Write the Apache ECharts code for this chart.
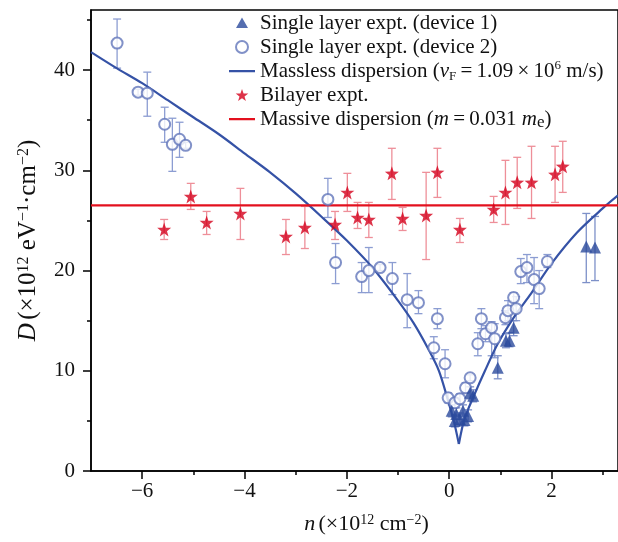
<!DOCTYPE html>
<html lang="en">

<head>
  <meta charset="UTF-8">
  <title>Density of states vs carrier density</title>
  <script src="https://cdn.jsdelivr.net/npm/echarts@6/dist/echarts.min.js"></script>
  <style>
    html, body {
      margin: 0;
      padding: 0;
      background: #fff;
    }

    #chart {
      width: 618px;
      height: 542px;
    }
  </style>
</head>

<body>
  <div id="chart"></div>

  <script>
    // single layer, device 1 (filled triangles)
    var dev1N = [0.05, 0.11, 0.14, 0.21, 0.27, 0.30, 0.37, 0.41, 0.47, 0.95, 1.11, 1.18, 1.26, 2.68, 2.85];
    var dev1D = [6.0, 5.0, 5.7, 5.2, 6.0, 5.1, 5.5, 7.8, 7.5, 10.3, 13.0, 13.0, 14.3, 22.4, 22.3];
    var dev1Lo = [5.4, 4.4, 5.1, 4.6, 5.4, 4.5, 4.9, 7.2, 6.9, 9.2, 12.3, 12.4, 13.5, 18.8, 19.0];
    var dev1Hi = [6.6, 5.6, 6.3, 5.8, 6.6, 5.7, 6.1, 8.4, 8.1, 11.5, 13.7, 13.8, 15.0, 25.7, 25.4];

    // single layer, device 2 (open circles)
    var dev2N = [-6.49, -6.08, -5.90, -5.56, -5.41, -5.27, -5.15, -2.37, -2.22, -1.71, -1.57, -1.35, -1.11, -0.82, -0.60,
      -0.23, -0.30, -0.08, -0.02, 0.11, 0.21, 0.32, 0.41, 0.56, 0.63, 0.71, 0.83, 0.89, 1.10, 1.15, 1.26, 1.31, 1.40,
      1.52, 1.66, 1.76, 1.92];
    var dev2D = [42.7, 37.8, 37.7, 34.6, 32.6, 33.1, 32.5, 27.1, 20.8, 19.4, 20.0, 20.3, 19.2, 17.1, 16.8,
      15.2, 12.3, 10.7, 7.3, 6.8, 7.2, 8.3, 9.3, 12.7, 15.2, 13.7, 14.3, 13.2, 15.3, 16.0, 17.3, 16.2, 19.9,
      20.3, 19.1, 18.2, 20.9];
    var dev2Lo = [40.2, 37.5, 35.4, 32.8, 29.9, 31.3, 32.2, 25.3, 18.7, 17.8, 17.8, 20.0, 17.6, 14.3, 15.7,
      14.2, 11.2, 9.3, 6.8, 6.3, 6.7, 7.8, 9.0, 11.5, 14.2, 12.9, 11.5, 11.3, 14.6, 15.0, 16.5, 15.0, 18.7,
      18.8, 16.7, 16.2, 20.3];
    var dev2Hi = [45.1, 38.1, 39.8, 36.3, 35.2, 34.8, 32.8, 29.2, 22.7, 20.8, 22.3, 20.6, 20.8, 19.7, 18.0,
      16.2, 13.4, 12.1, 7.8, 7.3, 7.7, 8.8, 9.6, 13.8, 16.2, 14.5, 14.9, 14.7, 16.0, 17.0, 17.8, 17.4, 21.2,
      21.6, 21.3, 20.0, 21.6];

    // bilayer (stars)
    var biN = [-5.57, -5.05, -4.74, -4.08, -3.19, -2.82, -2.23, -1.99, -1.79, -1.57, -1.12, -0.91, -0.45, -0.23,
      0.21, 0.87, 1.10, 1.33, 1.61, 2.07, 2.22];
    var biD = [24.1, 27.4, 24.8, 25.7, 23.4, 24.3, 24.6, 27.8, 25.3, 25.1, 29.7, 25.2, 25.5, 29.8,
      24.1, 26.1, 27.8, 28.8, 28.8, 29.6, 30.4];
    var biLo = [23.1, 26.1, 23.6, 23.1, 21.6, 22.2, 23.1, 25.9, 24.2, 23.3, 27.1, 24.0, 21.1, 27.3,
      22.8, 24.8, 24.6, 26.2, 25.2, 26.8, 27.8];
    var biHi = [25.1, 28.7, 25.9, 28.2, 25.1, 26.4, 25.9, 29.7, 26.8, 26.8, 32.2, 26.3, 29.8, 32.2,
      25.2, 27.4, 31.0, 31.3, 32.4, 32.4, 32.9];

    // massless dispersion curve (left and right branches)
    var masslessLeftN = [-7.0, -6.5, -6.0, -5.5, -5.0, -4.5, -4.0, -3.5, -3.0, -2.5, -2.0, -1.5, -1.0, -0.7, -0.4,
      -0.2, -0.02, 0.1, 0.19];
    var masslessLeftD = [41.8, 40.2, 38.7, 37.0, 35.3, 33.6, 31.7, 29.8, 27.7, 25.4, 23.0, 20.3, 17.0, 14.8, 12.1,
      10.0, 7.0, 4.8, 2.7];
    var masslessRightN = [0.19, 0.3, 0.5, 0.7, 0.95, 1.3, 1.6, 2.0, 2.5, 3.0, 3.3];
    var masslessRightD = [2.7, 5.2, 7.7, 10.0, 12.7, 15.6, 17.7, 20.7, 23.8, 26.2, 27.5];

    // massive dispersion (flat)
    var massiveN = [-7.0, 3.3];
    var massiveD = [26.5, 26.5];

    var xMajor = [-6, -4, -2, 0, 2];
    var xMinor = [-5, -3, -1, 1, 3];
    var yMajor = [0, 10, 20, 30, 40];
    var yMinor = [5, 15, 25, 35, 45];

    var FONT = 'Liberation Serif';
    var starPath = 'path://M0,-10L2.35,-3.24L9.51,-3.09L3.8,1.24L5.88,8.09L0,4L-5.88,8.09L-3.8,1.24L-9.51,-3.09L-2.35,-3.24Z';
    // legend icons, drawn inside a 26x12 box
    var lineIcon = 'path://M0,0L0.01,0M0,5H26V7.2H0ZM26,12L25.99,12';
    var triIcon = 'path://M0,0L0.01,0M13,0.5L19,11L7,11ZM26,12L25.99,12';

    function zip(a, b) {
      return a.map(function (v, i) { return [v, b[i]]; });
    }

    function errData(n, lo, hi) {
      return n.map(function (v, i) { return [v, lo[i], hi[i]]; });
    }

    // vertical error bars with caps
    function errBars(color) {
      return function (params, api) {
        var x = api.value(0);
        var p1 = api.coord([x, api.value(1)]);
        var p2 = api.coord([x, api.value(2)]);
        var w = 4;
        var st = { stroke: color, lineWidth: 1.3 };
        return {
          type: 'group',
          children: [
            { type: 'line', shape: { x1: p1[0], y1: p1[1], x2: p2[0], y2: p2[1] }, style: st },
            { type: 'line', shape: { x1: p1[0] - w, y1: p1[1], x2: p1[0] + w, y2: p1[1] }, style: st },
            { type: 'line', shape: { x1: p2[0] - w, y1: p2[1], x2: p2[0] + w, y2: p2[1] }, style: st }
          ]
        };
      };
    }

    var rich = {
      i: { fontFamily: FONT, fontStyle: 'italic', fontSize: 21, color: '#111' },
      sup: { fontFamily: FONT, fontSize: 13, verticalAlign: 'top', color: '#111' },
      sub: { fontFamily: FONT, fontSize: 13, verticalAlign: 'bottom', color: '#111' },
      sube: { fontFamily: FONT, fontSize: 17, verticalAlign: 'bottom', color: '#111' },
      t: { fontFamily: FONT, fontSize: 21, color: '#111' }
    };

    var legendText = {
      'Single layer expt. (device 1)': '{t|Single layer expt. (device 1)}',
      'Single layer expt. (device 2)': '{t|Single layer expt. (device 2)}',
      'Massless dispersion': '{t|Massless dispersion (}{i|v}{sub|F}{t|\u2009=\u20091.09\u2009×\u200910}{sup|6}{t| m/s)}',
      'Bilayer expt.': '{t|Bilayer expt.}',
      'Massive dispersion': '{t|Massive dispersion (}{i|m}{t|\u2009=\u20090.031 }{i|m}{sube|e}{t|)}'
    };

    var chart = echarts.init(document.getElementById('chart'));

    var xRich = {
      i: { fontFamily: FONT, fontStyle: 'italic', fontSize: 22, color: '#111' },
      t: { fontFamily: FONT, fontSize: 22, color: '#111' },
      sup: { fontFamily: FONT, fontSize: 14, verticalAlign: 'top', color: '#111' }
    };
    var yRich = {
      i: { fontFamily: FONT, fontStyle: 'italic', fontSize: 25, color: '#111' },
      t: { fontFamily: FONT, fontSize: 25, color: '#111' },
      sup: { fontFamily: FONT, fontSize: 16, verticalAlign: 'top', color: '#111' }
    };

    var option = {
      animation: false,
      grid: {
        left: 91, top: 10, right: -3, bottom: 71,
        show: true, borderColor: '#000', borderWidth: 1.5
      },
      legend: {
        orient: 'vertical',
        left: 224,
        top: 6,
        itemWidth: 26,
        itemHeight: 12,
        itemGap: 0,
        data: [
          { name: 'Single layer expt. (device 1)', icon: triIcon },
          { name: 'Single layer expt. (device 2)' },
          { name: 'Massless dispersion', icon: lineIcon },
          { name: 'Bilayer expt.' },
          { name: 'Massive dispersion', icon: lineIcon }
        ],
        formatter: function (name) { return legendText[name]; },
        textStyle: { fontFamily: FONT, fontSize: 21, color: '#111', lineHeight: 24, rich: rich }
      },
      xAxis: [
        {
          type: 'value',
          min: -7, max: 3.3,
          splitLine: { show: false },
          axisLine: { onZero: false, lineStyle: { color: '#000', width: 1.5 } },
          axisTick: { customValues: xMajor, length: 8, inside: false, lineStyle: { color: '#000', width: 1.5 } },
          axisLabel: {
            customValues: xMajor, margin: 10, fontFamily: FONT, fontSize: 21, color: '#111',
            formatter: function (v) { return v < 0 ? '\u2212' + Math.abs(v) : String(v); }
          },
          name: '{i|n} {t|(×10}{sup|12}{t| cm}{sup|−2}{t|)}',
          nameLocation: 'middle',
          nameGap: 42,
          nameTextStyle: { rich: xRich, padding: [0, 0, 0, 24] }
        },
        {
          type: 'value',
          min: -7, max: 3.3,
          position: 'bottom',
          splitLine: { show: false },
          axisLine: { show: false, onZero: false },
          axisTick: { customValues: xMinor, length: 4, lineStyle: { color: '#000', width: 1.5 } },
          axisLabel: { show: false }
        }
      ],
      yAxis: [
        {
          type: 'value',
          min: 0, max: 46,
          splitLine: { show: false },
          axisLine: { show: true, onZero: false, lineStyle: { color: '#000', width: 1.5 } },
          axisTick: { show: true, customValues: yMajor, length: 8, lineStyle: { color: '#000', width: 1.5 } },
          axisLabel: { customValues: yMajor, margin: 16, fontFamily: FONT, fontSize: 21, color: '#111' },
          name: '{i|D} {t|(×10}{sup|12}{t| eV}{sup|−1}{t|·cm}{sup|−2}{t|)}',
          nameLocation: 'middle',
          nameGap: 50,
          nameTextStyle: { rich: yRich }
        },
        {
          type: 'value',
          min: 0, max: 46,
          position: 'left',
          splitLine: { show: false },
          axisLine: { show: false, onZero: false },
          axisTick: { show: true, customValues: yMinor, length: 4, lineStyle: { color: '#000', width: 1.5 } },
          axisLabel: { show: false }
        }
      ],
      series: [
        {
          type: 'custom', renderItem: errBars('#8c9dd2'), data: errData(dev2N, dev2Lo, dev2Hi),
          encode: { x: 0, y: [1, 2] }, z: 1, silent: true
        },
        {
          type: 'custom', renderItem: errBars('#7d90c8'), data: errData(dev1N, dev1Lo, dev1Hi),
          encode: { x: 0, y: [1, 2] }, z: 1, silent: true
        },
        {
          type: 'custom', renderItem: errBars('#ee8f99'), data: errData(biN, biLo, biHi),
          encode: { x: 0, y: [1, 2] }, z: 1, silent: true
        },
        {
          name: 'Massless dispersion', type: 'line', data: zip(masslessLeftN, masslessLeftD),
          symbol: 'none', smooth: 0.3, lineStyle: { color: '#3552a6', width: 2.2 }, itemStyle: { color: '#3552a6' }, z: 2
        },
        {
          name: 'Massless dispersion', type: 'line', data: zip(masslessRightN, masslessRightD),
          symbol: 'none', smooth: 0.3, lineStyle: { color: '#3552a6', width: 2.2 }, itemStyle: { color: '#3552a6' }, z: 2
        },
        {
          name: 'Massive dispersion', type: 'line', data: zip(massiveN, massiveD),
          symbol: 'none', lineStyle: { color: '#e3101e', width: 2.2 }, itemStyle: { color: '#e3101e' }, z: 2
        },
        {
          name: 'Single layer expt. (device 2)', type: 'scatter', data: zip(dev2N, dev2D),
          symbol: 'emptyCircle', symbolSize: 11,
          itemStyle: { color: '#6176ba', borderWidth: 1.1 }, z: 3
        },
        {
          name: 'Bilayer expt.', type: 'scatter', data: zip(biN, biD),
          symbol: starPath, symbolSize: 14, itemStyle: { color: '#d4001c' }, z: 4
        },
        {
          name: 'Single layer expt. (device 1)', type: 'scatter', data: zip(dev1N, dev1D),
          symbol: 'triangle', symbolSize: 12, itemStyle: { color: '#2b4a9c' }, z: 5
        }
      ]
    };

    chart.setOption(option);
  </script>
</body>

</html>
